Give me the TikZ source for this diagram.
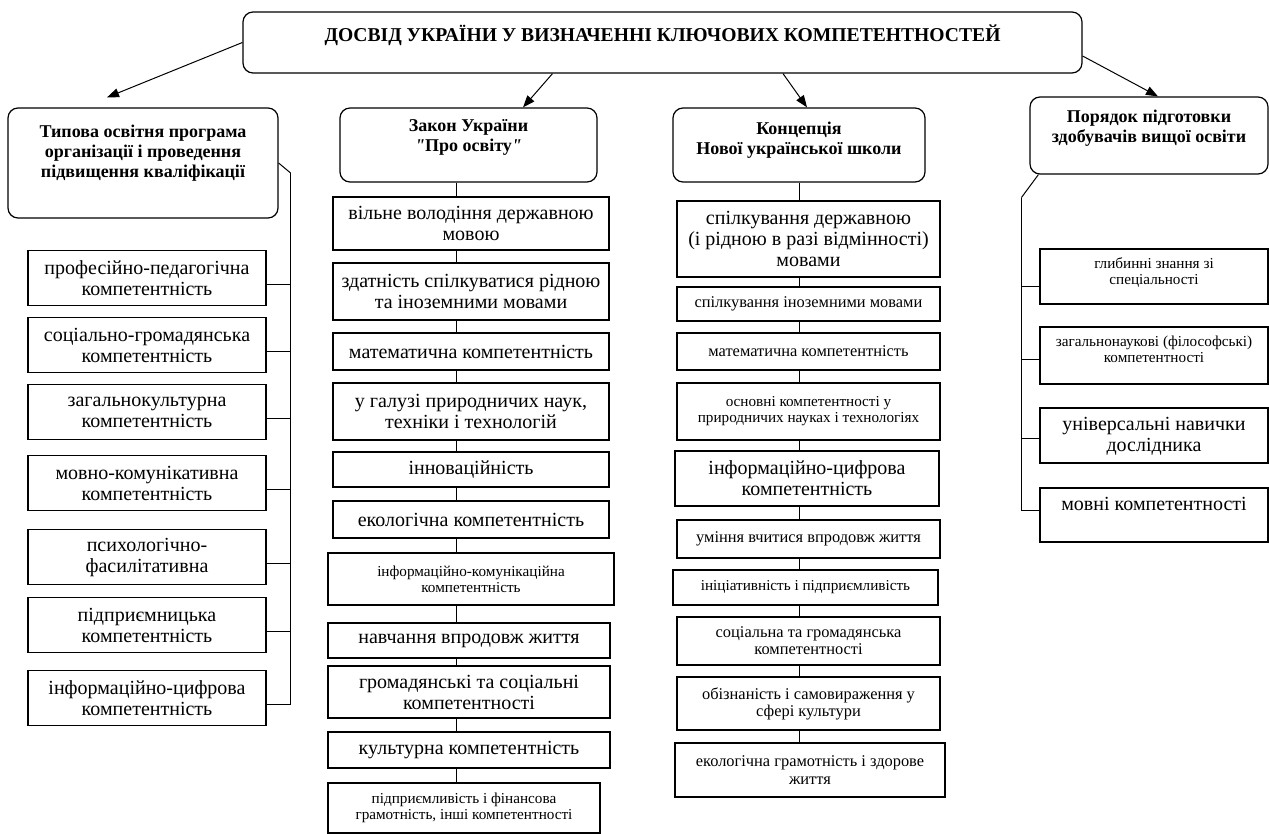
\documentclass[tikz,border=0pt]{standalone}
\usepackage{fontspec}
\setmainfont{Liberation Serif}
\newfontfamily\quotefont{Liberation Serif}
\usetikzlibrary{arrows.meta,positioning}
\newcommand{\fbig}{\fontsize{10}{10.5}\selectfont}
\newcommand{\fmid}{\fontsize{8.2}{8.6}\selectfont}
\newcommand{\fsml}{\fontsize{7.6}{8}\selectfont}
\newcommand{\qmark}{{\quotefont\bfseries\itshape "}}
\tikzset{
    headbox/.style={draw, rounded corners=5pt, line width=0.6pt},
    headtxt/.style={anchor=north, align=center, inner sep=0pt, font=\bfseries\fontsize{9}{10}\selectfont},
    compbox/.style={draw, align=center, inner sep=0pt, line width=0.6pt},
    comptxt/.style={anchor=north, align=center, inner sep=0pt, yshift=-4.5pt},
    arr/.style={-{Triangle[length=6pt,width=4.5pt]}}
}

\begin{document}
\begin{tikzpicture}[x=0.5pt, y=-0.5pt, line width=0.5pt]
    \useasboundingbox (0,0) rectangle (1269,834);
    \fill[white] (0,0) rectangle (1269,834);

    \node[headbox, minimum width=419.5pt, minimum height=30.5pt,
        label={[headtxt, yshift=-6.5pt, font=\bfseries\fontsize{9.8}{11}\selectfont]north:ДОСВІД УКРАЇНИ У ВИЗНАЧЕННІ КЛЮЧОВИХ КОМПЕТЕНТНОСТЕЙ}] (top) at (662.5,42.5) {};
    \node[headbox, minimum width=135pt, minimum height=55pt,
        label={[headtxt, yshift=-8.5pt]north:Типова освітня програма\\організації і проведення\\підвищення кваліфікації}] (n-0-A) at (143,163) {};
    \node[headbox, minimum width=128.5pt, minimum height=37pt,
        label={[headtxt, yshift=-6pt]north:Закон України\\\qmark Про освіту\qmark}] (n-0-B) at (468.5,145) {};
    \node[headbox, minimum width=126pt, minimum height=37pt,
        label={[headtxt, yshift=-7pt]north:Концепція\\Нової української школи}] (n-0-C) at (799,145) {};
    \node[headbox, minimum width=119pt, minimum height=38.5pt,
        label={[headtxt, yshift=-6.5pt]north:Порядок підготовки\\здобувачів вищої освіти}] (n-0-D) at (1149,135.5) {};

    \draw[arr] (top.west) -- ([shift={(-36,-10)}]n-0-A.north);
    \draw[arr] ([shift={(-110,0)}]top.south) -- ([shift={(54.5,0)}]n-0-B.north);
    \draw[arr] ([shift={(120.5,0)}]top.south) -- ([shift={(8,0)}]n-0-C.north);
    \draw[arr] ([shift={(0,13.5)}]top.east) -- ([shift={(9,0)}]n-0-D.north);

    \draw (n-0-A.east) -- ++(12,10) coordinate (sp-A);
    \foreach[count=\i] \ya/\txt in {250/{професійно-педагогічна\\компетентність},
        317/{соціально-громадянська\\компетентність}, 384/{загальнокультурна\\компетентність},
        455/{мовно-комунікативна\\компетентність}, 529/{психологічно-\\фасилітативна},
        597/{підприємницька\\компетентність}, 670/{інформаційно-цифрова\\компетентність}} {
        \node[compbox, font=\fbig, minimum width=119pt, minimum height=27.5pt, anchor=north] (n-\i-A) at (147,\ya) {\txt};
        \draw ([yshift=-3pt]n-\i-A.east) coordinate (e-\i-A) -- (e-\i-A -| sp-A);
    }
    \draw (sp-A) -- (sp-A |- e-7-A);

    \coordinate (l-B) at ([xshift=-6pt]n-0-B.south);
    \foreach[count=\i, remember=\i as \j (initially 0)] \xa/\xb/\ya/\yb/\fs/\txt in {
        333/609/197/250/\fbig/{вільне володіння державною\\мовою},
        333/609/263/320/\fbig/{здатність спілкуватися рідною\\та іноземними мовами},
        333/609/333/370/\fbig/{математична компетентність},
        333/609/383/440/\fbig/{у галузі природничих наук,\\техніки і технологій},
        333/609/452/487/\fbig/{інноваційність},
        333/609/501/538/\fbig/{екологічна компетентність},
        328/614/553/605/\fsml/{інформаційно-комунікаційна\\компетентність},
        328/610/623/658/\fbig/{навчання впродовж життя},
        328/610/666/718/\fbig/{громадянські та соціальні\\компетентності},
        328/610/732/768/\fbig/{культурна компетентність},
        328/600/783/833/\fsml/{підприємливість і фінансова\\грамотність, інші компетентності}} {
        \node[compbox, font=\fs, minimum width=(\xb-\xa)*0.5pt, minimum height=(\yb-\ya)*0.5pt] (n-\i-B) at ({(\xa+\xb)/2},{(\ya+\yb)/2}) {\txt};
        \draw (n-\j-B.south -| l-B) -- (n-\i-B.north -| l-B);
    }

    \coordinate (l-C) at (n-0-C.south);
    \foreach[count=\i, remember=\i as \j (initially 0)] \xa/\xb/\ya/\yb/\fs/\txt in {
        677/940/201/277/\fbig/{спілкування державною\\(і рідною в разі відмінності)\\мовами},
        677/940/287/321/\fmid/{спілкування іноземними мовами},
        677/940/333/370/\fmid/{математична компетентність},
        677/940/383/440/\fsml/{основні компетентності у\\природничих науках і технологіях},
        675/939/451/506/\fbig/{інформаційно-цифрова\\компетентність},
        677/940/520/558/\fmid/{уміння вчитися впродовж життя},
        673/938/570/605/\fsml/{ініціативність і підприємливість},
        677/940/617/665/\fmid/{соціальна та громадянська\\компетентності},
        677/940/677/730/\fmid/{обізнаність і самовираження у\\сфері культури},
        675/945/743/797/\fmid/{екологічна грамотність і здорове\\життя}} {
        \node[compbox, font=\fs, minimum width=(\xb-\xa)*0.5pt, minimum height=(\yb-\ya)*0.5pt] (n-\i-C) at ({(\xa+\xb)/2},{(\ya+\yb)/2}) {\txt};
        \draw (n-\j-C.south -| l-C) -- (n-\i-C.north -| l-C);
    }

    \draw ([xshift=4.5pt]n-0-D.south west) -- ++(-17,23) coordinate (sp-D);
    \foreach[count=\i] \ya/\yb/\yc/\fs/\txt in {
        249/304/287/\fsml/{глибинні знання зі\\спеціальності},
        327/384/359/\fsml/{загальнонаукові (філософські)\\компетентності},
        408/463/438/\fbig/{універсальні навички\\дослідника},
        488/542/510/\fbig/{мовні компетентності}} {
        \node[compbox, minimum width=114pt, minimum height=(\yb-\ya)*0.5pt,
            label={[comptxt, font=\fs]north:\txt}] (n-\i-D) at (1154,{(\ya+\yb)/2}) {};
        \draw (sp-D |- 0,\yc) coordinate (e-\i-D) -- (e-\i-D -| n-\i-D.west);
    }
    \draw (sp-D) -- (e-4-D);
\end{tikzpicture}
\end{document}
